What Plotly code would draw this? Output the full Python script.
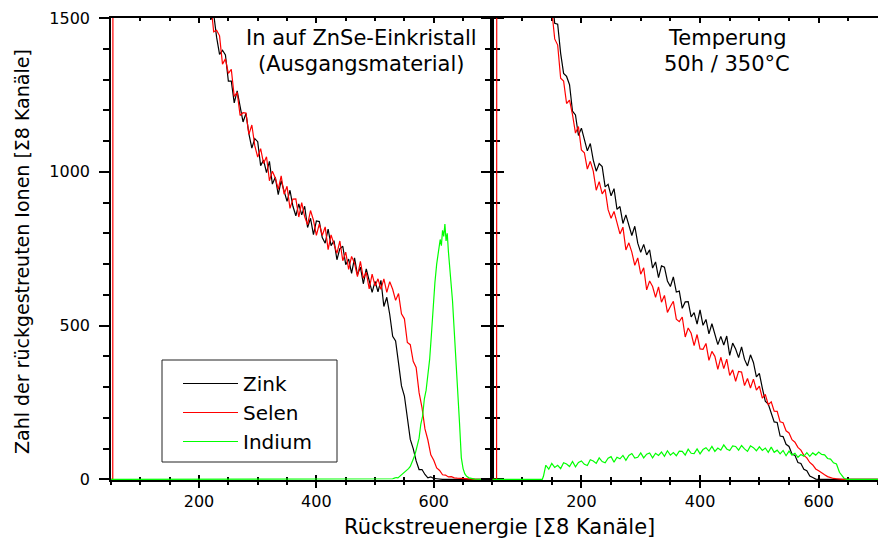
import plotly.graph_objects as go

# ---------------- data ----------------
# left panel: "In auf ZnSe-Einkristall (Ausgangsmaterial)"
LEFT_ZINK = [
    (215, 1582), (220, 1494), (225, 1513), (230, 1437), (235, 1382), (240, 1395), (245, 1380), (250, 1295),
    (255, 1295), (260, 1224), (265, 1263), (270, 1218), (275, 1162), (280, 1190), (285, 1123), (290, 1077),
    (295, 1108), (300, 1098), (305, 1020), (310, 1038), (315, 997), (320, 1034), (325, 960), (330, 982),
    (335, 926), (340, 971), (345, 939), (350, 904), (355, 940), (360, 888), (365, 857), (370, 896),
    (375, 860), (380, 888), (385, 819), (390, 849), (395, 796), (400, 840), (405, 838), (410, 786),
    (415, 768), (420, 814), (425, 760), (430, 776), (435, 714), (440, 750), (445, 758), (450, 698),
    (455, 716), (460, 670), (465, 720), (470, 665), (475, 690), (480, 636), (485, 684), (490, 646),
    (495, 608), (500, 644), (505, 610), (510, 647), (515, 562), (520, 592), (525, 536), (530, 465),
    (535, 450), (540, 378), (545, 304), (550, 271), (555, 204), (560, 130), (565, 100), (570, 60),
    (575, 32), (580, 32), (585, 16), (590, 5), (595, 8), (600, 3), (605, 2), (610, 1), (615, 0), (700, 0),
]
LEFT_SELEN = [
    (50, 0), (53, 0), (53.5, 3000), (212, 1600),
    (215, 1550), (220, 1547), (225, 1455), (230, 1460), (235, 1442), (240, 1350), (245, 1367), (250, 1320),
    (255, 1333), (260, 1245), (265, 1258), (270, 1183), (275, 1192), (280, 1191), (285, 1122), (290, 1152),
    (295, 1085), (300, 1048), (305, 1075), (310, 1027), (315, 1049), (320, 971), (325, 1002), (330, 980),
    (335, 943), (340, 987), (345, 927), (350, 953), (355, 881), (360, 911), (365, 912), (370, 853),
    (375, 900), (380, 854), (385, 828), (390, 874), (395, 843), (400, 793), (405, 831), (410, 793),
    (415, 821), (420, 747), (425, 795), (430, 767), (435, 735), (440, 775), (445, 711), (450, 739),
    (455, 683), (460, 725), (465, 703), (470, 659), (475, 709), (480, 654), (485, 673), (490, 619),
    (495, 667), (500, 629), (505, 652), (510, 618), (515, 652), (520, 608), (525, 643), (530, 618),
    (535, 582), (540, 604), (545, 538), (550, 522), (555, 445), (560, 438), (565, 384), (570, 364),
    (575, 282), (580, 233), (585, 164), (590, 128), (595, 80), (600, 62), (605, 37), (610, 29),
    (615, 15), (620, 14), (625, 8), (630, 9), (635, 5), (640, 4), (650, 2), (660, 1), (670, 0), (700, 0),
]
LEFT_INDIUM = [
    (50, 0), (525, 0), (530, 2), (533, 4), (536, 6), (539, 5), (542, 10), (545, 12), (548, 18), (551, 22),
    (554, 28), (557, 35), (560, 42), (563, 55), (566, 70), (569, 88), (572, 116), (575, 134), (578, 180),
    (581, 206), (584, 262), (587, 290), (590, 340), (593, 390), (596, 470), (599, 560), (602, 640),
    (605, 700), (608, 745), (611, 780), (613, 760), (615, 810), (617, 790), (619, 830), (621, 775),
    (623, 800), (625, 740), (627, 700), (629, 660), (632, 580), (635, 480), (638, 390), (641, 300),
    (644, 180), (647, 70), (650, 35), (653, 18), (656, 10), (660, 5), (665, 3), (670, 1), (680, 0), (700, 0),
]

# right panel: "Temperung 50h / 350°C"
RIGHT_ZINK = [
    (148, 1610), (150, 1578), (155, 1483), (160, 1480), (165, 1385), (170, 1320), (175, 1310), (180, 1283),
    (185, 1197), (190, 1185), (195, 1118), (200, 1142), (205, 1108), (210, 1068), (215, 1092), (220, 1038),
    (225, 1002), (230, 1027), (235, 1017), (240, 951), (245, 959), (250, 922), (255, 945), (260, 878),
    (265, 887), (270, 832), (275, 860), (280, 827), (285, 793), (290, 823), (295, 768), (300, 738),
    (305, 764), (310, 730), (315, 746), (320, 687), (325, 707), (330, 656), (335, 694), (340, 690),
    (345, 645), (350, 627), (355, 658), (360, 609), (365, 612), (370, 556), (375, 577), (380, 578),
    (385, 528), (390, 542), (395, 505), (400, 551), (405, 501), (410, 520), (415, 473), (420, 506),
    (425, 472), (430, 438), (435, 465), (440, 437), (445, 466), (450, 403), (455, 443), (460, 424),
    (465, 396), (470, 431), (475, 390), (480, 369), (485, 405), (490, 380), (495, 333), (500, 345),
    (505, 297), (510, 254), (515, 245), (520, 214), (525, 187), (530, 185), (535, 141), (540, 139),
    (545, 114), (550, 107), (555, 82), (560, 78), (565, 55), (570, 52), (575, 33), (580, 28),
    (585, 11), (590, 6), (595, 1), (600, 0), (700, 0),
]
RIGHT_SELEN = [
    (50, 0), (57, 0), (57.5, 3000), (142, 1620),
    (145, 1540), (150, 1526), (155, 1432), (160, 1412), (165, 1304), (170, 1295), (175, 1222), (180, 1233),
    (185, 1186), (190, 1126), (195, 1147), (200, 1071), (205, 1062), (210, 1009), (215, 1034), (220, 1002),
    (225, 940), (230, 968), (235, 928), (240, 943), (245, 877), (250, 849), (255, 871), (260, 838),
    (265, 798), (270, 820), (275, 746), (280, 769), (285, 739), (290, 696), (295, 720), (300, 667),
    (305, 688), (310, 616), (315, 645), (320, 627), (325, 592), (330, 626), (335, 576), (340, 598),
    (345, 543), (350, 562), (355, 579), (360, 521), (365, 513), (370, 528), (375, 463), (380, 492),
    (385, 475), (390, 435), (395, 471), (400, 424), (405, 423), (410, 442), (415, 387), (420, 416),
    (425, 400), (430, 358), (435, 397), (440, 360), (445, 391), (450, 338), (455, 356), (460, 319),
    (465, 351), (470, 349), (475, 305), (480, 328), (485, 297), (490, 326), (495, 290), (500, 303),
    (505, 264), (510, 276), (515, 243), (520, 252), (525, 222), (530, 221), (535, 187), (540, 184),
    (545, 158), (550, 151), (555, 129), (560, 121), (565, 104), (570, 95), (575, 78), (580, 70),
    (585, 55), (590, 47), (595, 34), (600, 28), (605, 20), (610, 15), (615, 9), (620, 5),
    (625, 3), (630, 2), (635, 1), (640, 0), (700, 0),
]
RIGHT_INDIUM = [
    (50, 0), (134, 0), (136, 10), (138, 35),
    (140, 46), (145, 33), (150, 52), (155, 39), (160, 46), (165, 35), (170, 54), (175, 50), (180, 42),
    (185, 58), (190, 41), (195, 55), (200, 60), (205, 49), (210, 45), (215, 64), (220, 60), (225, 52),
    (230, 70), (235, 58), (240, 54), (245, 69), (250, 74), (255, 56), (260, 72), (265, 67), (270, 78),
    (275, 62), (280, 78), (285, 84), (290, 69), (295, 72), (300, 86), (305, 70), (310, 82), (315, 86),
    (320, 70), (325, 85), (330, 78), (335, 89), (340, 75), (345, 93), (350, 79), (355, 87), (360, 77),
    (365, 92), (370, 91), (375, 79), (380, 98), (385, 85), (390, 84), (395, 99), (400, 83), (405, 97),
    (410, 103), (415, 92), (420, 107), (425, 91), (430, 102), (435, 95), (440, 112), (445, 99), (450, 94),
    (455, 109), (460, 107), (465, 95), (470, 110), (475, 99), (480, 91), (485, 109), (490, 103), (495, 93),
    (500, 106), (505, 94), (510, 102), (515, 88), (520, 105), (525, 88), (530, 95), (535, 83), (540, 94),
    (545, 77), (550, 92), (555, 79), (560, 85), (565, 72), (570, 81), (575, 75), (580, 87), (585, 75),
    (590, 86), (595, 79), (600, 89), (605, 81), (610, 80), (615, 68), (620, 66), (625, 54), (630, 50),
    (635, 23), (640, 10), (643, 3), (648, 0), (700, 0),
]

SERIES_NAMES = ["Zink", "Selen", "Indium"]
SERIES_COLORS = ["#000000", "#ff0000", "#00ff00"]
PANEL_TITLES = [["In auf ZnSe-Einkristall", "(Ausgangsmaterial)"], ["Temperung", "50h / 350°C"]]
X_TITLE = "Rückstreuenergie [Σ8 Kanäle]"
Y_TITLE = "Zahl der rückgestreuten Ionen [Σ8 Kanäle]"
X_TICKS = [200, 400, 600]
Y_TICKS = [0, 500, 1000, 1500]
X_RANGE = [50, 700]
Y_RANGE = [-2, 1500]

FONT = "DejaVu Sans"

fig = go.Figure()

panels = [
    ("x", "y", [LEFT_ZINK, LEFT_SELEN, LEFT_INDIUM], True),
    ("x2", "y2", [RIGHT_ZINK, RIGHT_SELEN, RIGHT_INDIUM], False),
]
for xa, ya, series, show in panels:
    for name, color, pts in zip(SERIES_NAMES, SERIES_COLORS, series):
        fig.add_trace(go.Scatter(
            x=[p[0] for p in pts], y=[p[1] for p in pts], mode="lines",
            line=dict(color=color, width=1.2), name=name, legendgroup=name,
            showlegend=show, xaxis=xa, yaxis=ya, hoverinfo="skip",
        ))

# empty traces so that the inside-tick overlay axes get drawn
fig.add_trace(go.Scatter(x=[], y=[], xaxis="x3", yaxis="y", showlegend=False))
fig.add_trace(go.Scatter(x=[], y=[], xaxis="x4", yaxis="y2", showlegend=False))

SPLIT = 0.4973
tickfont = dict(family=FONT, size=16, color="black")

def xmain(domain, anchor):
    return dict(domain=domain, anchor=anchor, range=X_RANGE, tickvals=X_TICKS,
                ticks="outside", ticklen=6, tickwidth=1.5, tickcolor="black",
                minor=dict(dtick=50, tick0=0, ticks="outside", ticklen=3, tickwidth=1.5, tickcolor="black"),
                showline=True, linewidth=1.5, linecolor="black", mirror=True,
                showgrid=False, zeroline=False, tickfont=tickfont, layer="below traces",
                automargin=False)

def xover(over, anchor):
    return dict(overlaying=over, anchor=anchor, range=X_RANGE, tickvals=X_TICKS,
                ticks="inside", ticklen=5, tickwidth=1.5, tickcolor="black",
                minor=dict(dtick=50, tick0=0, ticks="inside", ticklen=3, tickwidth=1.5, tickcolor="black"),
                mirror="ticks", showline=False, showticklabels=False,
                showgrid=False, zeroline=False, layer="below traces", automargin=False)

def yax(anchor, labels):
    return dict(anchor=anchor, domain=[0, 1], range=Y_RANGE, tickvals=Y_TICKS,
                ticks="outside", ticklen=10, tickwidth=1.5, tickcolor="black",
                minor=dict(dtick=100, tick0=0, ticks="outside", ticklen=6, tickwidth=1.5, tickcolor="black"),
                showline=True, linewidth=1.5, linecolor="black", mirror="ticks",
                showgrid=False, zeroline=False, showticklabels=labels, tickfont=tickfont,
                layer="below traces", automargin=False, ticklabelstandoff=6)

fig.update_layout(
    width=878, height=544,
    margin=dict(l=111, r=0, t=18, b=64, autoexpand=False),
    paper_bgcolor="white", plot_bgcolor="white",
    xaxis=xmain([0, SPLIT], "y"),
    xaxis2=xmain([SPLIT, 1], "y2"),
    xaxis3=xover("x", "y"),
    xaxis4=xover("x2", "y2"),
    yaxis=yax("x", True),
    yaxis2=yax("x2", False),
    showlegend=True,
    legend=dict(x=(178 - 111) / 767, y=(480 - 364) / 462, xanchor="left", yanchor="top",
                bgcolor="rgba(0,0,0,0)", borderwidth=0, itemwidth=55,
                font=dict(family=FONT, size=20, color="black"), tracegroupgap=0),
)

# legend frame
fig.add_shape(type="rect", xref="paper", yref="paper",
              x0=(162 - 111) / 767, x1=(337 - 111) / 767,
              y0=(480 - 462) / 462, y1=(480 - 360) / 462,
              line=dict(color="#222222", width=1), fillcolor="rgba(0,0,0,0)")

annot_font = dict(family=FONT, size=21, color="black")
centers = [(361 - 111) / 767, (727 - 111) / 767]
for cx, lines in zip(centers, PANEL_TITLES):
    fig.add_annotation(x=cx, y=(480 - 38) / 462, xref="paper", yref="paper", text=lines[0],
                       showarrow=False, xanchor="center", yanchor="middle", font=annot_font)
    fig.add_annotation(x=cx, y=(480 - 64) / 462, xref="paper", yref="paper", text=lines[1],
                       showarrow=False, xanchor="center", yanchor="middle", font=annot_font)

fig.add_annotation(x=(499 - 111) / 767, y=(480 - 527) / 462, xref="paper", yref="paper",
                   text=X_TITLE, showarrow=False, xanchor="center", yanchor="middle",
                   font=dict(family=FONT, size=21, color="black"))
fig.add_annotation(x=(22 - 111) / 767, y=(480 - 252) / 462, xref="paper", yref="paper",
                   text=Y_TITLE, showarrow=False, textangle=-90, xanchor="center", yanchor="middle",
                   font=dict(family=FONT, size=19, color="black"))

fig.write_html("out.html")
